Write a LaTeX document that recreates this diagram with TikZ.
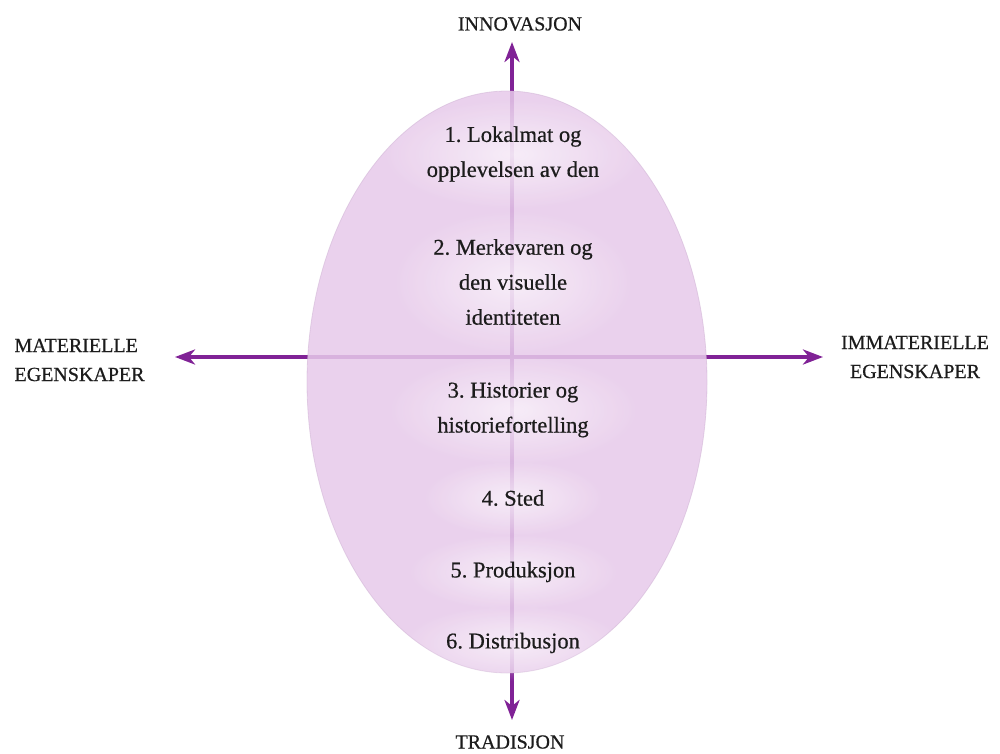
\documentclass[tikz,border=0pt]{standalone}
\usepackage{fontspec}
\setmainfont{Liberation Serif}[BoldFont=Liberation Serif, BoldFeatures={FakeBold=0.6}]
\usetikzlibrary{arrows.meta,fadings}
\frenchspacing
\definecolor{axispurple}{RGB}{128,34,150}
\definecolor{lilac}{RGB}{231,202,234}
\definecolor{lilacedge}{RGB}{205,175,210}
\definecolor{inktext}{RGB}{28,28,28}
% radial fading: opaque in the middle, clear at the rim
\tikzfading[name=softglow, inner color=transparent!0, outer color=transparent!100]
\begin{document}
\begin{tikzpicture}[x=1pt,y=-1pt,
  axis/.style={draw=axispurple, line width=3.5pt,
    -{Stealth[length=20pt,width=15pt,inset=6pt]}},
  item/.style={font=\fontsize{22.5}{35}\selectfont\bfseries, text=inktext, align=center},
  pole/.style={font=\fontsize{20}{29}\selectfont\bfseries, text=inktext},
  glow/.style={fill=white, fill opacity=0.6, path fading=softglow},
]
\useasboundingbox (0,0) rectangle (1000,754);

% crossing point and free ends of the four axes
\coordinate (c) at (512,357);
\coordinate (north) at (512,42);
\coordinate (south) at (512,720);
\coordinate (west) at (175,357);
\coordinate (east) at (823,357);

\draw[axis] (c) -- (north);
\draw[axis] (c) -- (south);
\draw[axis] (c) -- (west);
\draw[axis] (c) -- (east);

% translucent oval over the axes
\fill[lilac, fill opacity=0.86] (507,382) ellipse [x radius=200, y radius=291];
\draw[lilacedge, line width=0.8pt, draw opacity=0.5] (507,382) ellipse [x radius=200, y radius=291];

% soft light behind each entry
\fill[glow] (513,154) ellipse [x radius=130, y radius=55];
\fill[glow] (513,282) ellipse [x radius=120, y radius=72];
\fill[glow] (513,410) ellipse [x radius=125, y radius=55];
\fill[glow] (513,498) ellipse [x radius=90, y radius=38];
\fill[glow] (513,572) ellipse [x radius=105, y radius=38];
\fill[glow] (513,643) ellipse [x radius=110, y radius=38];

% entries
\node[item] (i1) at (513,154) {1. Lokalmat og\\opplevelsen av den};
\node[item] (i2) at (513,282) {2. Merkevaren og\\den visuelle\\identiteten};
\node[item] (i3) at (513,410) {3. Historier og\\historiefortelling};
\node[item] (i4) at (513,498) {4. Sted};
\node[item] (i5) at (513,572) {5. Produksjon};
\node[item] (i6) at (513,643) {6. Distribusjon};

% axis labels
\node[pole] (inn) at (520,24) {INNOVASJON};
\node[pole] (trad) at (510,742) {TRADISJON};
\node[pole, align=left, anchor=west] (mat) at (11,360) {MATERIELLE\\EGENSKAPER};
\node[pole, align=center] (imm) at (915,357) {IMMATERIELLE\\EGENSKAPER};
\end{tikzpicture}
\end{document}
